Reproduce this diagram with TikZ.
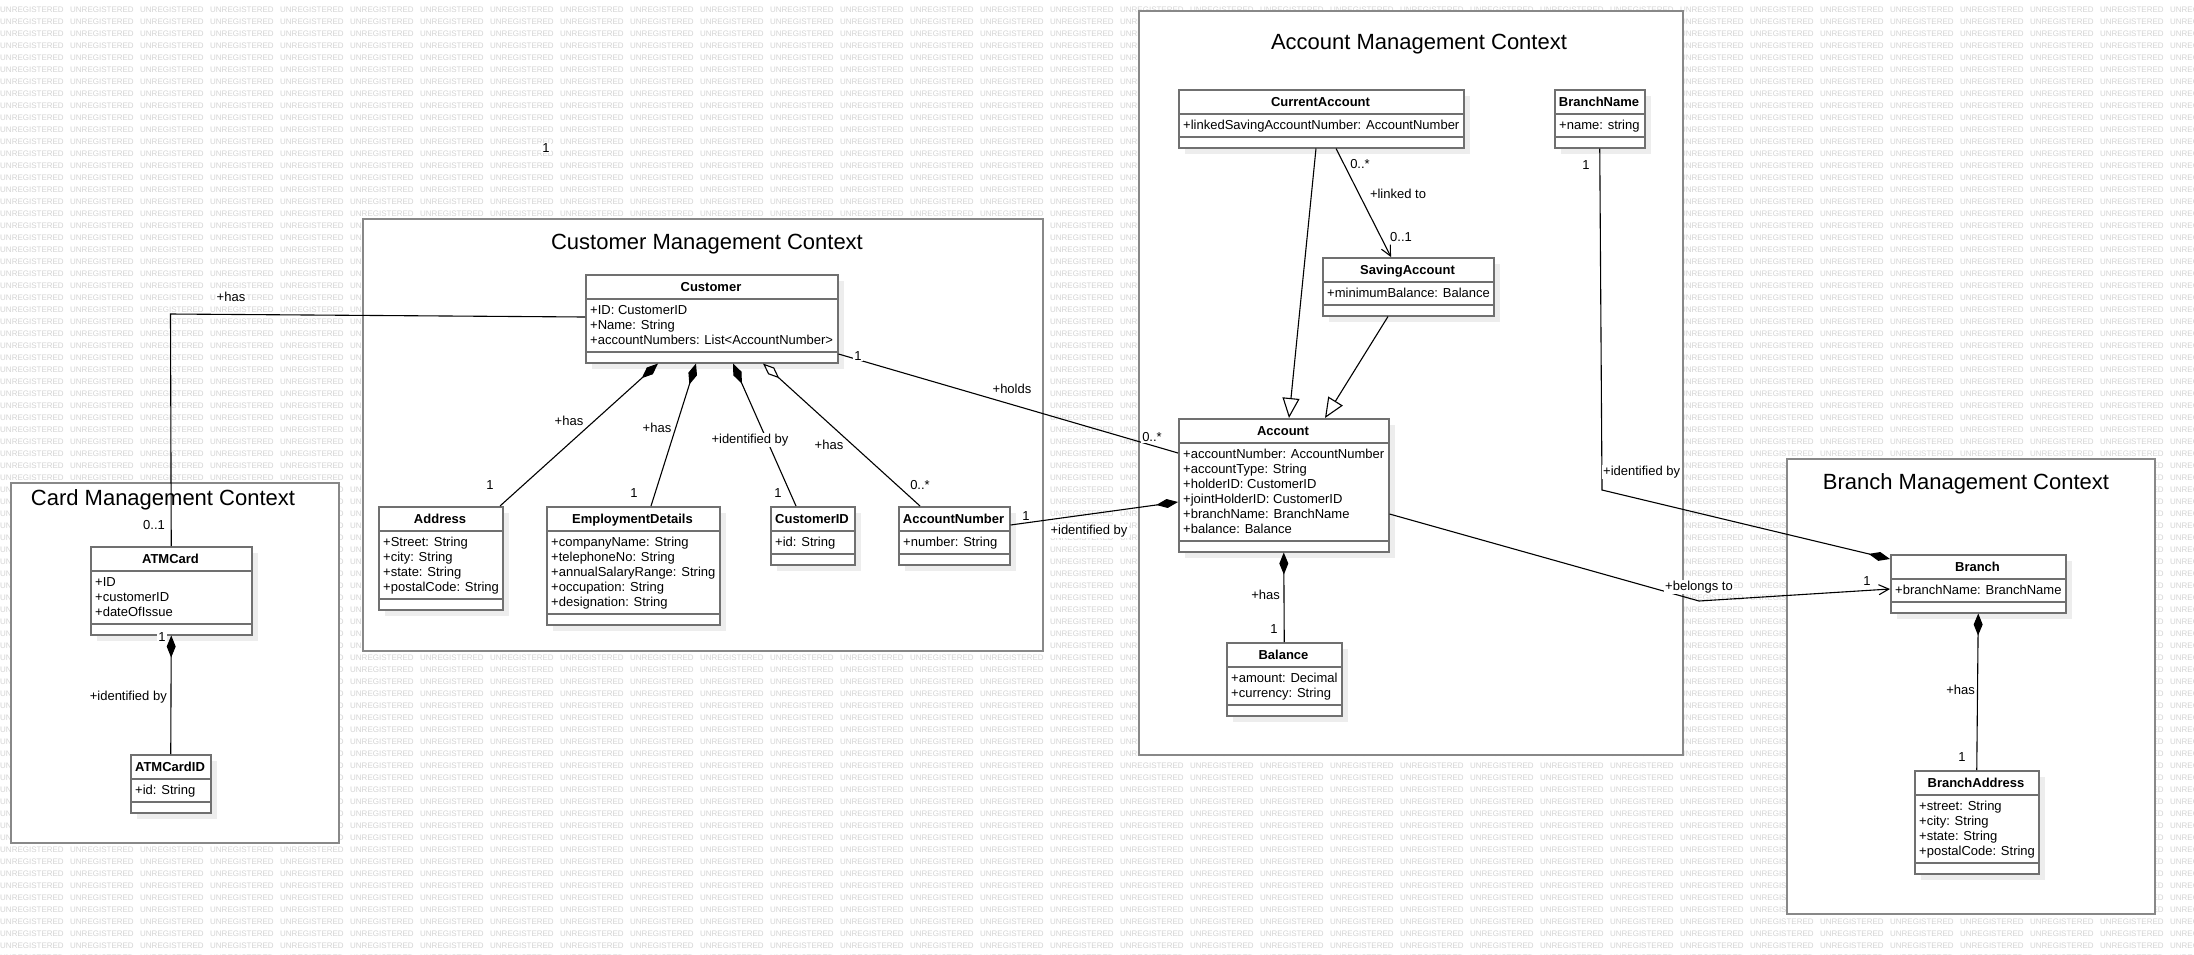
\documentclass[tikz,border=0pt]{standalone}
\usepackage{fontspec}
\setmainfont{Liberation Sans}
\usetikzlibrary{arrows.meta,calc}
\definecolor{wm}{HTML}{D4D4D4}
\definecolor{clsborder}{HTML}{707070}
\definecolor{frameborder}{HTML}{888888}
\definecolor{shadowc}{HTML}{EDEDED}
\newcommand\wmword{\makebox[70pt][l]{UNREGISTERED}}
\newcommand\wmeight{\wmword\wmword\wmword\wmword\wmword\wmword\wmword\wmword}
\newcommand\wmrow{\wmeight\wmeight\wmeight\wmeight}
\tikzset{
  ctxframe/.style={draw=frameborder, line width=2pt, fill=white, anchor=north west, inner sep=0pt},
  clsbox/.style={draw=clsborder, line width=1.5pt, fill=white, anchor=north west, inner sep=0pt},
  clssep/.style={draw=clsborder, line width=1.5pt},
  clstitle/.style={font=\fontsize{13}{15}\selectfont\bfseries, anchor=base, inner sep=0pt},
  clsattr/.style={font=\fontsize{13}{15}\selectfont, anchor=base west, inner sep=0pt},
  ctxtitle/.style={font=\fontsize{22}{26}\selectfont, anchor=base, inner sep=0pt},
  lbl/.style={font=\fontsize{13}{15}\selectfont, fill=white, inner sep=1pt},
  wmtext/.style={font=\fontsize{8}{9}\selectfont, text=wm, inner sep=0pt, anchor=base west},
  conn/.style={draw=black, line width=1.1pt},
  comp/.style={conn, {Diamond[length=22pt,width=9pt]}-},
  compend/.style={conn, -{Diamond[length=22pt,width=9pt]}},
  aggr/.style={conn, {Diamond[open,length=22pt,width=9pt,fill=white]}-},
  gen/.style={conn, -{Triangle[open,length=20pt,width=17pt,fill=white]}},
  nav/.style={conn, -{Straight Barb[length=10pt,width=10pt]}},
}
% name, x, y, width, nlines, title, attrs
\newcommand\umlclass[7]{%
  \pgfmathsetmacro\clsh{25+15*#5+18}%
  \pgfmathsetmacro\clsa{25+15*#5+8}%
  \fill[shadowc] ({#2+7},{#3+7}) rectangle ++(#4,\clsh);
  \node[clsbox, minimum width=#4pt, minimum height=\clsh pt] (#1) at (#2,#3) {};
  \draw[clssep] ({#2},{#3+25}) -- ++(#4,0);
  \draw[clssep] ({#2},{#3+\clsa}) -- ++(#4,0);
  \node[clstitle] (#1-t) at ({#2+#4/2},{#3+17.3}) {#6};
  \node[clsattr] (#1-a) at ({#2+5},{#3+40.5}) {\begin{tabular}[t]{@{}l@{}}#7\end{tabular}};
}
\begin{document}
\begin{tikzpicture}[x=1pt,y=-1pt]
\useasboundingbox (0,0) rectangle (2194,954);
\fill[white] (0,0) rectangle (2194,954);
% watermark
\begin{scope}
\clip (0,0) rectangle (2194,954);
\foreach \j in {0,...,79} {\node[wmtext] (wm\j) at (0,{12.2+12*\j}) {\wmrow};}
\end{scope}
% context frames
\node[ctxframe, minimum width=328pt, minimum height=360pt] (cardctx) at (10,482) {};
\node[ctxframe, minimum width=680pt, minimum height=432pt] (custctx) at (362,218) {};
\node[ctxframe, minimum width=544pt, minimum height=744pt] (accctx) at (1138,10) {};
\node[ctxframe, minimum width=368pt, minimum height=455pt] (brctx) at (1786,458) {};
\node[ctxtitle] (cardt) at (163,505) {Card Management Context};
\node[ctxtitle] (custt) at (707,249) {Customer Management Context};
\node[ctxtitle] (acct) at (1419,49) {Account Management Context};
\node[ctxtitle] (brt) at (1966,489) {Branch Management Context};
% classes
\umlclass{atm}{90}{546}{161}{3}{ATMCard}{+ID\\+customerID\\+dateOfIssue}
\umlclass{atmid}{130}{754}{80}{1}{ATMCardID}{+id: String}
\umlclass{cust}{585}{274}{252}{3}{Customer}{+ID: CustomerID\\+Name: String\\+accountNumbers: List<AccountNumber>}
\umlclass{addr}{378}{506}{124}{4}{Address}{+Street: String\\+city: String\\+state: String\\+postalCode: String}
\umlclass{emp}{546}{506}{173}{5}{EmploymentDetails}{+companyName: String\\+telephoneNo: String\\+annualSalaryRange: String\\+occupation: String\\+designation: String}
\umlclass{cid}{770}{506}{84}{1}{CustomerID}{+id: String}
\umlclass{anum}{898}{506}{111}{1}{AccountNumber}{+number: String}
\umlclass{acc}{1178}{418}{210}{6}{Account}{+accountNumber: AccountNumber\\+accountType: String\\+holderID: CustomerID\\+jointHolderID: CustomerID\\+branchName: BranchName\\+balance: Balance}
\umlclass{bal}{1226}{642}{115}{2}{Balance}{+amount: Decimal\\+currency: String}
\umlclass{cur}{1178}{89}{285}{1}{CurrentAccount}{+linkedSavingAccountNumber: AccountNumber}
\umlclass{bname}{1554}{89}{90}{1}{BranchName}{+name: string}
\umlclass{sav}{1322}{257}{171}{1}{SavingAccount}{+minimumBalance: Balance}
\umlclass{br}{1890}{554}{175}{1}{Branch}{+branchName: BranchName}
\umlclass{badr}{1914}{770}{124}{4}{BranchAddress}{+street: String\\+city: String\\+state: String\\+postalCode: String}
% connectors
\coordinate (atmbend) at (170.5,314);
\draw[conn] ($(cust.north west)+(0,43)$) -- (atmbend) -- (atm.north);
\draw[comp] ($(cust.south west)+(73,0)$) -- ($(addr.north west)+(122,0)$);
\draw[comp] ($(cust.south west)+(111,0)$) -- ($(emp.north west)+(105,0)$);
\draw[comp] ($(cust.south west)+(148,0)$) -- ($(cid.north west)+(26,0)$);
\draw[aggr] ($(cust.south west)+(178,0)$) -- ($(anum.north west)+(22,0)$);
\draw[conn] ($(cust.north east)+(0,80)$) -- ($(acc.north west)+(0,35)$);
\draw[compend] ($(anum.north east)+(0,19)$) -- ($(acc.north west)+(0,84)$);
\draw[comp] (acc.south) -- (bal.north);
\draw[nav] ($(cur.south west)+(158,0)$) -- ($(sav.north west)+(69,0)$);
\draw[gen] ($(cur.south west)+(138,0)$) -- ($(acc.north west)+(111,0)$);
\draw[gen] ($(sav.south west)+(66,0)$) -- ($(acc.north west)+(147,0)$);
\coordinate (bnbend) at (1602,490);
\draw[compend] (bname.south) -- (bnbend) -- ($(br.north west)+(0,5)$);
\coordinate (btbend) at (1699,601);
\draw[nav] ($(acc.north east)+(0,96)$) -- (btbend) -- ($(br.north west)+(0,35)$);
\draw[comp] (br.south) -- (badr.north);
\draw[comp] (atm.south) -- (atmid.north);
% labels
\node[lbl] (m1) at (546,148) {1};
\node[lbl] (m2) at (231,297) {+has};
\node[lbl] (m3) at (154,525) {0..1};
\node[lbl] (m4) at (569,421) {+has};
\node[lbl] (m5) at (490,485) {1};
\node[lbl] (m6) at (657,428) {+has};
\node[lbl] (m7) at (634,493) {1};
\node[lbl] (m8) at (750,440) {+identified by};
\node[lbl] (m9) at (778,493) {1};
\node[lbl] (m10) at (829,445) {+has};
\node[lbl] (m11) at (920,485) {0..*};
\node[lbl] (m12) at (858,356) {1};
\node[lbl] (m13) at (1012,389) {+holds};
\node[lbl] (m14) at (1152,437) {0..*};
\node[lbl] (m15) at (1026,516) {1};
\node[lbl] (m16) at (1089,531) {+identified by};
\node[lbl,anchor=east] (m17) at (1281,595) {+has};
\node[lbl] (m18) at (1274,629) {1};
\node[lbl] (m19) at (1360,164) {0..*};
\node[lbl] (m20) at (1398,194) {+linked to};
\node[lbl] (m21) at (1401,237) {0..1};
\node[lbl] (m22) at (1586,165) {1};
\node[lbl,anchor=west] (m23) at (1602,472) {+identified by};
\node[lbl] (m24) at (1699,587) {+belongs to};
\node[lbl] (m25) at (1867,581) {1};
\node[lbl,anchor=east] (m26) at (1976,690) {+has};
\node[lbl] (m27) at (1962,757) {1};
\node[lbl] (m28) at (162,637) {1};
\node[lbl,anchor=east] (m29) at (168,697) {+identified by};
\end{tikzpicture}
\end{document}
